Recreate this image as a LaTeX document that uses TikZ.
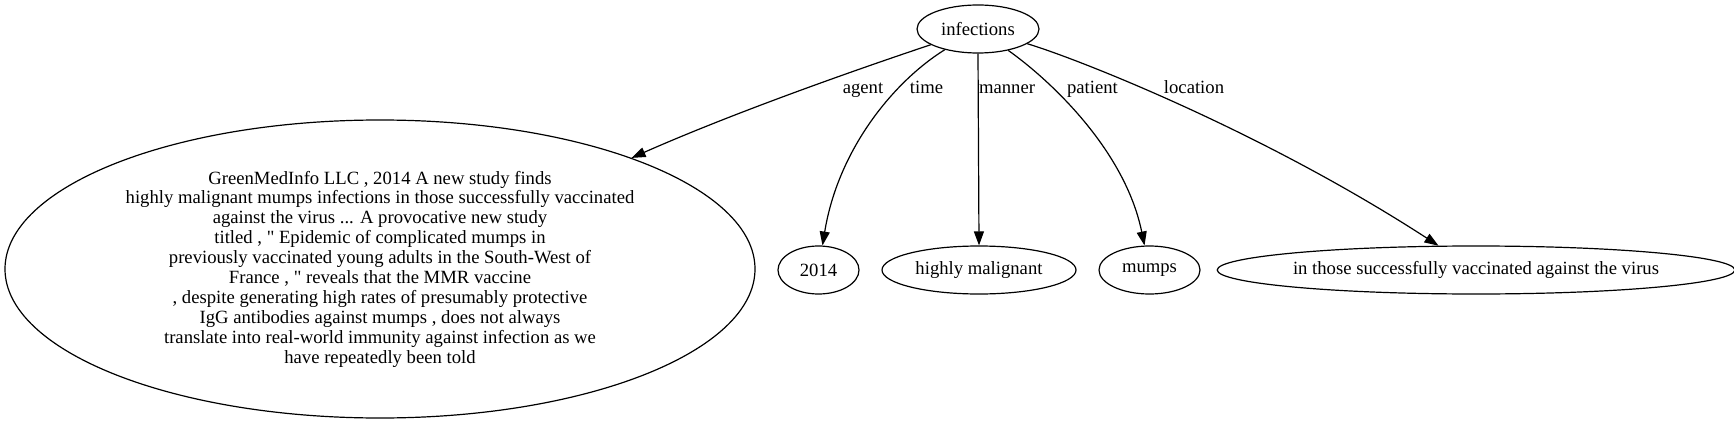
\documentclass[tikz,border=0pt]{standalone}
\usepackage{fontspec}
\setmainfont{Liberation Serif}
\usetikzlibrary{shapes.geometric,arrows.meta}
\begin{document}
\begin{tikzpicture}[x=1pt,y=-1pt,
  every node/.style={font=\fontsize{18.67}{19.9}\selectfont},
  ell/.style={draw, ellipse, line width=1.2pt, inner sep=0pt, minimum height=48pt},
  lbl/.style={inner sep=0pt, anchor=base},
  edge/.style={draw, line width=1.2pt, -{Triangle[length=14pt,width=10pt]}}]
\useasboundingbox (0,0) rectangle (1734,425);
\node[ell, minimum width=122pt] (inf) at (978,29) {infections};
\node[ell, minimum width=750pt, minimum height=298pt, align=center] (agent) at (380,269)
 {GreenMedInfo LLC , 2014 A new study finds\\
 highly malignant mumps infections in those successfully vaccinated\\
 against the virus ... A provocative new study\\
 titled , \textquotedbl{} Epidemic of complicated mumps in\\
 previously vaccinated young adults in the South-West of\\
 France , \textquotedbl{} reveals that the MMR vaccine\\
 , despite generating high rates of presumably protective\\
 IgG antibodies against mumps , does not always\\
 translate into real-world immunity against infection as we\\
 have repeatedly been told};
\node[ell, minimum width=81pt] (time) at (818.5,270) {2014};
\node[ell, minimum width=194pt] (manner) at (979,270) {highly malignant};
\node[ell, minimum width=101pt] (patient) at (1149.5,270) {mumps};
\node[ell, minimum width=506pt] (loc) at (1476,270) {in those successfully vaccinated against the virus};
\path[edge] (inf) .. controls (870,65) and (740,110) .. (agent);
\path[edge] (inf) .. controls (893,82) and (838,150) .. (time);
\path[edge] (inf.south) -- (manner.north);
\path[edge] (inf) .. controls (1050,80) and (1125,150) .. (patient);
\path[edge] (inf) .. controls (1075,58) and (1260,130) .. (loc);
\node[lbl] (la) at (863,94) {agent};
\node[lbl] (lt) at (926.5,94) {time};
\node[lbl] (lm) at (1007,94) {manner};
\node[lbl] (lp) at (1092.5,94) {patient};
\node[lbl] (ll) at (1194,94) {location};
\end{tikzpicture}
\end{document}
